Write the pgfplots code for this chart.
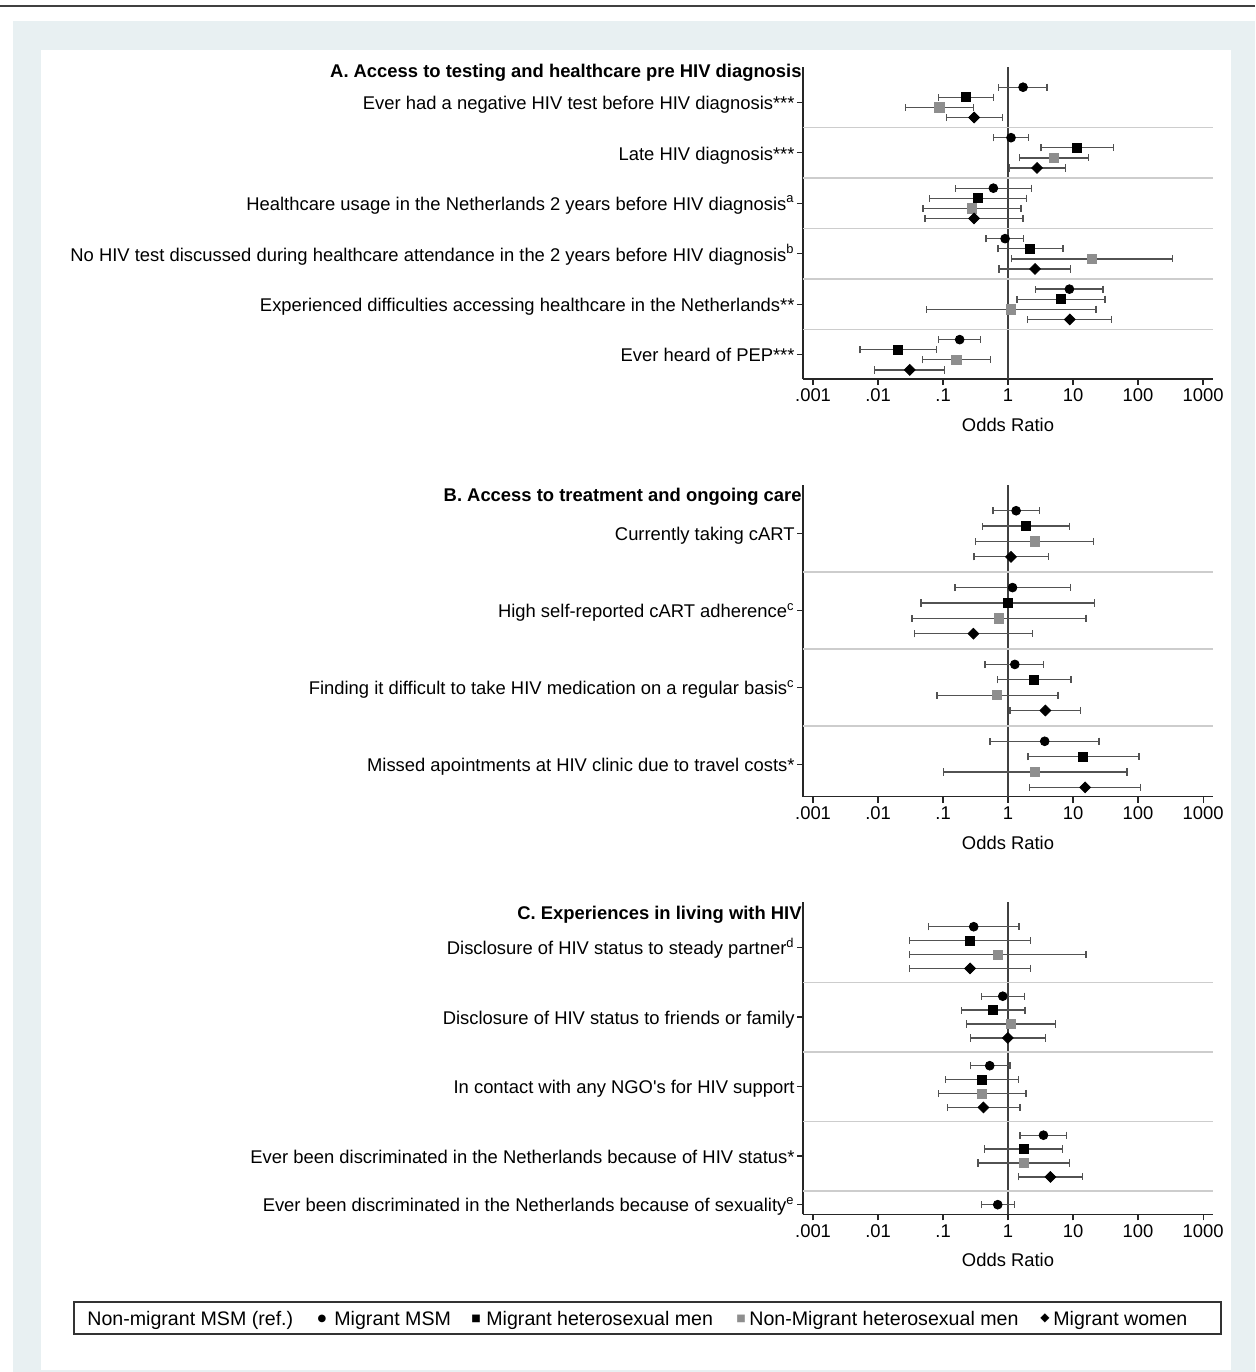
\documentclass[border=0pt]{standalone}
\usepackage{fontspec}
\setmainfont{Liberation Sans}
\newfontfamily\symfont{DejaVu Sans}
\usepackage{pgfplots}
\usepackage{pgfplotstable}
\pgfplotsset{compat=1.18}
\definecolor{bgblue}{RGB}{232,240,242}
\definecolor{mgray}{RGB}{142,142,142}
\definecolor{sepgray}{RGB}{205,205,205}
\newcommand{\lf}{\fontsize{9.2}{11}\selectfont}
\newcommand{\legf}{\fontsize{9.8}{11}\selectfont}

% Panel A
\pgfplotstableread{
y or lo hi
-1 1.70 0.71 3.98
-6 1.11 0.60 2.08
-11 0.594 0.157 2.31
-16 0.90 0.459 1.74
-21 8.78 2.67 29.0
-26 0.18 0.0848 0.38
}\Acirc
\pgfplotstableread{
y or lo hi
-2 0.223 0.0857 0.594
-7 11.5 3.22 41.8
-12 0.345 0.0616 1.94
-17 2.18 0.70 7.02
-22 6.54 1.375 31.1
-27 0.0203 0.00528 0.0789
}\Asqb
\pgfplotstableread{
y or lo hi
-3 0.088 0.0267 0.293
-8 5.1 1.51 17.4
-13 0.279 0.0492 1.585
-18 19.6 1.14 337
-23 1.11 0.0561 22.6
-28 0.160 0.0486 0.541
}\Asqg
\pgfplotstableread{
y or lo hi
-4 0.30 0.112 0.818
-9 2.79 1.05 7.62
-14 0.30 0.0529 1.70
-19 2.60 0.727 9.1
-24 8.89 2.01 39.4
-29 0.0307 0.00879 0.106
}\Adia
% Panel B
\pgfplotstableread{
y or lo hi
-1 1.33 0.588 3.07
-6 1.17 0.153 9.1
-11 1.27 0.443 3.54
-16 3.66 0.529 25.1
}\Bcirc
\pgfplotstableread{
y or lo hi
-2 1.89 0.408 8.78
-7 1.0 0.0459 21.5
-12 2.51 0.693 9.31
-17 14.3 2.03 103.6
}\Bsqb
\pgfplotstableread{
y or lo hi
-3 2.60 0.318 20.8
-8 0.727 0.0334 15.85
-13 0.677 0.0809 5.88
-18 2.60 0.102 67.7
}\Bsqg
\pgfplotstableread{
y or lo hi
-4 1.11 0.30 4.22
-9 0.293 0.0367 2.40
-14 3.75 1.07 12.97
-19 15.3 2.15 108.6
}\Bdia
% Panel C
\pgfplotstableread{
y or lo hi
-1 0.296 0.0602 1.476
-6 0.828 0.389 1.80
-11 0.522 0.263 1.07
-16 3.50 1.53 8.0
-21 0.693 0.393 1.24
}\Ccirc
\pgfplotstableread{
y or lo hi
-2 0.26 0.0307 2.21
-7 0.588 0.194 1.83
-12 0.398 0.11 1.43
-17 1.76 0.438 6.93
}\Csqb
\pgfplotstableread{
y or lo hi
-3 0.70 0.0307 15.85
-8 1.11 0.229 5.35
-13 0.398 0.0848 1.89
-18 1.76 0.345 8.89
}\Csqg
\pgfplotstableread{
y or lo hi
-4 0.26 0.0307 2.21
-9 0.99 0.263 3.75
-14 0.418 0.117 1.53
-19 4.48 1.43 14.1
}\Cdia

\pgfplotsset{
  errb/.style={error bars/.cd, x dir=both, x explicit,
     error bar style={black!68, line width=0.65pt},
     error mark options={black!68, line width=0.65pt, mark size=1.8pt, rotate=90}},
  circ/.style={only marks, mark=*, mark size=2.2pt, black, errb},
  sqb/.style={only marks, mark=square*, mark size=2.3pt, black, errb},
  sqg/.style={only marks, mark=square*, mark size=2.3pt, color=mgray, errb},
  dia/.style={only marks, mark=square*, mark size=1.9pt, mark options={rotate=45}, black, errb},
  fplot/.style={
    scale only axis, width=205pt, height=156pt,
    xmin=0.0007, xmax=1420,
    axis x line*=bottom, axis y line*=left,
    axis line style={black!85, line width=0.6pt},
    xtick={0.001,0.01,0.1,1,10,100,1000},
    xticklabels={.001,.01,.1,1,10,100,1000},
    xminorticks=false, yminorticks=false,
    tick align=outside, major tick length=3pt,
    tick style={black!85, line width=0.6pt},
    ticklabel style={font=\lf},
    xticklabel style={inner ysep=1.8pt},
    yticklabel style={inner xsep=1pt, text height=0.93em, text depth=0.21em},
    xlabel={Odds Ratio},
    xlabel style={font=\lf, at={(axis description cs:0.5,0)}, anchor=center, yshift=-23pt},
    extra x ticks={1}, extra x tick labels={},
    extra x tick style={grid=major, major grid style={black!75, line width=0.65pt}, major tick length=0pt},
    extra y tick labels={},
    extra y tick style={grid=major, major grid style={sepgray, line width=0.75pt}, major tick length=0pt},
    clip=false,
  },
  table/tablexy/.style={x=or, y=y, x error plus expr={\thisrow{hi}-\thisrow{or}}, x error minus expr={\thisrow{or}-\thisrow{lo}}},
}
\tikzset{ptitle/.style={anchor=east, inner xsep=0.5pt, font=\bfseries\lf}}

\begin{document}
\begin{tikzpicture}
\fill[white] (0,0) rectangle (627.5pt,-686pt);
\fill[bgblue] (6.5pt,-10.5pt) rectangle (627.5pt,-686pt);
\fill[white] (20.5pt,-25pt) rectangle (615.5pt,-685pt);
\draw[black!75, line width=1pt] (0,-2.75pt) -- (627.5pt,-2.75pt);

% ---------------- Panel A
\begin{axis}[xmode=log, fplot, at={(401.5pt,-33.5pt)}, anchor=north west,
  ymin=-29.9, ymax=1.0,
  ytick={-27.5,-22.5,-17.5,-12.5,-7.5,-2.5},
  yticklabels={{Ever heard of PEP***},
    {Experienced difficulties accessing healthcare in the Netherlands**},
    {No HIV test discussed during healthcare attendance in the 2 years before HIV diagnosis\textsuperscript{b}},
    {Healthcare usage in the Netherlands 2 years before HIV diagnosis\textsuperscript{a}},
    {Late HIV diagnosis***},
    {Ever had a negative HIV test before HIV diagnosis***}},
  extra y ticks={-25,-20,-15,-10,-5}]
\addplot[circ] table[tablexy] {\Acirc};
\addplot[sqb] table[tablexy] {\Asqb};
\addplot[sqg] table[tablexy] {\Asqg};
\addplot[dia] table[tablexy] {\Adia};
\node[ptitle] at ({rel axis cs:0,0}|-{axis cs:1,0.4}) {A. Access to testing and healthcare pre HIV diagnosis};
\end{axis}

% ---------------- Panel B
\begin{axis}[xmode=log, fplot, at={(401.5pt,-242.3pt)}, anchor=north west,
  ymin=-19.6, ymax=0.7,
  ytick={-17.5,-12.5,-7.5,-2.5},
  yticklabels={{Missed apointments at HIV clinic due to travel costs*},
    {Finding it difficult to take HIV medication on a regular basis\textsuperscript{c}},
    {High self-reported cART adherence\textsuperscript{c}},
    {Currently taking cART}},
  extra y ticks={-15,-10,-5}]
\addplot[circ] table[tablexy] {\Bcirc};
\addplot[sqb] table[tablexy] {\Bsqb};
\addplot[sqg] table[tablexy] {\Bsqg};
\addplot[dia] table[tablexy] {\Bdia};
\node[ptitle] at ({rel axis cs:0,0}|-{axis cs:1,-0.1}) {B. Access to treatment and ongoing care};
\end{axis}

% ---------------- Panel C
\begin{axis}[xmode=log, fplot, at={(401.5pt,-451.2pt)}, anchor=north west,
  ymin=-21.7, ymax=0.75,
  ytick={-21,-17.5,-12.5,-7.5,-2.5},
  yticklabels={{Ever been discriminated in the Netherlands because of sexuality\textsuperscript{e}},
    {Ever been discriminated in the Netherlands because of HIV status*},
    {In contact with any NGO\textquotesingle s for HIV support},
    {Disclosure of HIV status to friends or family},
    {Disclosure of HIV status to steady partner\textsuperscript{d}}},
  extra y ticks={-20,-15,-10,-5}]
\addplot[circ] table[tablexy] {\Ccirc};
\addplot[sqb] table[tablexy] {\Csqb};
\addplot[sqg] table[tablexy] {\Csqg};
\addplot[dia] table[tablexy] {\Cdia};
\node[ptitle] at ({rel axis cs:0,0}|-{axis cs:1,-0.15}) {C. Experiences in living with HIV};
\end{axis}

% ---------------- Legend
\draw[black!80, line width=0.6pt] (37pt,-651pt) rectangle (610.5pt,-667pt);
\node[anchor=base west, inner sep=0pt, font=\legf] at (43.5pt,-662.75pt) {Non-migrant MSM (ref.)};
\node[inner sep=0pt, font=\symfont\fontsize{5}{6}\selectfont] at (161pt,-659.3pt) {●};
\node[anchor=base west, inner sep=0pt, font=\legf] at (167pt,-662.75pt) {Migrant MSM};
\node[inner sep=0pt, font=\symfont\fontsize{5}{6}\selectfont] at (238pt,-659.3pt) {■};
\node[anchor=base west, inner sep=0pt, font=\legf] at (243pt,-662.75pt) {Migrant heterosexual men};
\node[inner sep=0pt, text=mgray, font=\symfont\fontsize{5}{6}\selectfont] at (370.5pt,-659.3pt) {■};
\node[anchor=base west, inner sep=0pt, font=\legf] at (374.5pt,-662.75pt) {Non-Migrant heterosexual men};
\node[inner sep=0pt, font=\symfont\fontsize{6}{7}\selectfont] at (522.5pt,-659.3pt) {◆};
\node[anchor=base west, inner sep=0pt, font=\legf] at (526.5pt,-662.75pt) {Migrant women};

\pgfresetboundingbox
\useasboundingbox (0,0) rectangle (627.5pt,-686pt);
\end{tikzpicture}
\end{document}
